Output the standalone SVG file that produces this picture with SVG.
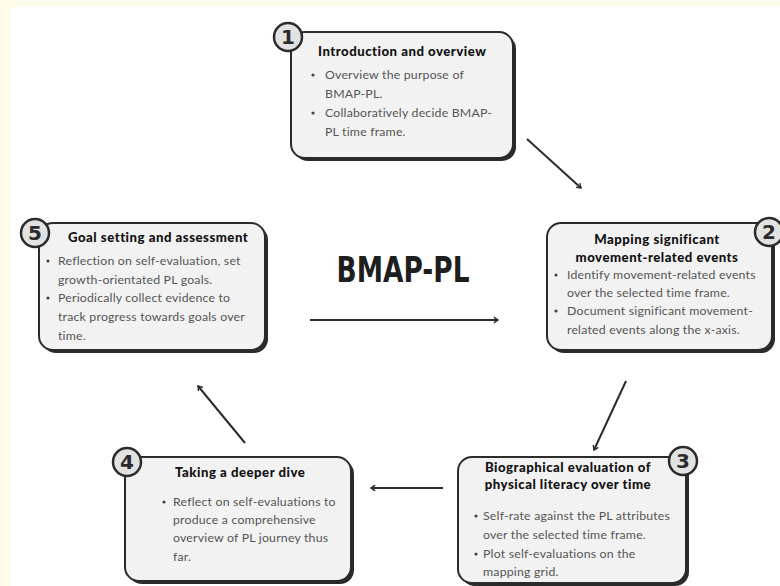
<svg xmlns="http://www.w3.org/2000/svg" width="780" height="586" viewBox="0 0 780 586">
<defs>
<style>
.sh{fill:#2b2b2b}
.bx{fill:#f2f2f2;stroke:#2b2b2b;stroke-width:2}
.cir{fill:#e2e2e2;stroke:#2b2b2b;stroke-width:2.5}
.num{font-family:"DejaVu Sans",sans-serif;font-weight:bold;font-size:20px;fill:#2b2b2b;text-anchor:middle}
.tt{font-family:Lato,"Noto Sans",sans-serif;font-weight:900;font-size:13.2px;letter-spacing:0.5px;fill:#111}
.ttc{text-anchor:middle}
.bd{font-family:Lato,"Noto Sans",sans-serif;font-size:12.3px;letter-spacing:0.2px;fill:#555}
.bul{fill:#444}
.con{stroke:#2b2b2b;stroke-width:2;fill:none}
</style>
<marker id="ah" viewBox="0 0 10 10" refX="8" refY="5" markerWidth="7" markerHeight="7" orient="auto" markerUnits="userSpaceOnUse" overflow="visible">
<path d="M2,1 L8,5 L2,9" fill="none" stroke="#2b2b2b" stroke-width="2"/>
</marker>
</defs>
<rect width="780" height="586" fill="#ffffff"/>
<rect width="780" height="7" fill="#fffbeb"/>
<rect width="11" height="586" fill="#fffbeb"/>

<g id="title">
<text x="403" y="282" font-family="'DejaVu Sans Condensed','DejaVu Sans',sans-serif" font-weight="bold" font-size="36" fill="#1e1e1e" text-anchor="middle" textLength="133" lengthAdjust="spacingAndGlyphs">BMAP-PL</text>
</g>

<g id="connectors">
<line class="con" x1="527" y1="139" x2="581" y2="188" marker-end="url(#ah)"/>
<line class="con" x1="626" y1="381" x2="594" y2="450" marker-end="url(#ah)"/>
<line class="con" x1="443" y1="488" x2="371" y2="488" marker-end="url(#ah)"/>
<line class="con" x1="245" y1="443" x2="198" y2="386" marker-end="url(#ah)"/>
<line class="con" x1="310" y1="320" x2="498" y2="320" marker-end="url(#ah)"/>
</g>

<g id="node1">
<rect class="sh" x="294" y="35" width="222" height="126" rx="14"/>
<rect class="bx" x="291" y="32" width="222" height="126" rx="14"/>
<circle class="cir" cx="288" cy="37" r="14"/>
<text class="num" x="288" y="44">1</text>
<text class="tt" x="318" y="56">Introduction and overview</text>
<circle class="bul" cx="313" cy="75" r="1.6"/>
<text class="bd" x="325" y="79">Overview the purpose of</text>
<text class="bd" x="325" y="98">BMAP-PL.</text>
<circle class="bul" cx="313" cy="113" r="1.6"/>
<text class="bd" x="325" y="117">Collaboratively decide BMAP-</text>
<text class="bd" x="325" y="136">PL time frame.</text>
</g>

<g id="node2">
<rect class="sh" x="550" y="226" width="225" height="127" rx="14"/>
<rect class="bx" x="547" y="223" width="225" height="127" rx="14"/>
<circle class="cir" cx="769" cy="232" r="14"/>
<text class="num" x="769" y="239">2</text>
<text class="tt ttc" x="657" y="244">Mapping significant</text>
<text class="tt ttc" x="657" y="262">movement-related events</text>
<circle class="bul" cx="556" cy="275" r="1.6"/>
<text class="bd" x="567" y="279">Identify movement-related events</text>
<text class="bd" x="567" y="297">over the selected time frame.</text>
<circle class="bul" cx="556" cy="311" r="1.6"/>
<text class="bd" x="567" y="315">Document significant movement-</text>
<text class="bd" x="567" y="334">related events along the x-axis.</text>
</g>

<g id="node3">
<rect class="sh" x="461" y="460" width="228" height="126" rx="14"/>
<rect class="bx" x="458" y="457" width="228" height="126" rx="14"/>
<circle class="cir" cx="683" cy="461" r="14"/>
<text class="num" x="683" y="468">3</text>
<text class="tt ttc" x="568" y="472">Biographical evaluation of</text>
<text class="tt ttc" x="568" y="489">physical literacy over time</text>
<circle class="bul" cx="476" cy="516" r="1.6"/>
<text class="bd" x="483" y="520">Self-rate against the PL attributes</text>
<text class="bd" x="483" y="539">over the selected time frame.</text>
<circle class="bul" cx="476" cy="554" r="1.6"/>
<text class="bd" x="483" y="558">Plot self-evaluations on the</text>
<text class="bd" x="483" y="576">mapping grid.</text>
</g>

<g id="node4">
<rect class="sh" x="128" y="460" width="226" height="124" rx="14"/>
<rect class="bx" x="125" y="457" width="226" height="124" rx="14"/>
<circle class="cir" cx="127" cy="462" r="14"/>
<text class="num" x="127" y="469">4</text>
<text class="tt" x="175" y="477">Taking a deeper dive</text>
<circle class="bul" cx="164" cy="502" r="1.6"/>
<text class="bd" x="173" y="506">Reflect on self-evaluations to</text>
<text class="bd" x="173" y="524">produce a comprehensive</text>
<text class="bd" x="173" y="542">overview of PL journey thus</text>
<text class="bd" x="173" y="561">far.</text>
</g>

<g id="node5">
<rect class="sh" x="42" y="226" width="226" height="127" rx="14"/>
<rect class="bx" x="39" y="223" width="226" height="127" rx="14"/>
<circle class="cir" cx="35" cy="233" r="14"/>
<text class="num" x="35" y="240">5</text>
<text class="tt" x="68" y="242">Goal setting and assessment</text>
<circle class="bul" cx="48" cy="261" r="1.6"/>
<text class="bd" x="58" y="265">Reflection on self-evaluation, set</text>
<text class="bd" x="58" y="284">growth-orientated PL goals.</text>
<circle class="bul" cx="48" cy="298" r="1.6"/>
<text class="bd" x="58" y="302">Periodically collect evidence to</text>
<text class="bd" x="58" y="321">track progress towards goals over</text>
<text class="bd" x="58" y="340">time.</text>
</g>
</svg>
